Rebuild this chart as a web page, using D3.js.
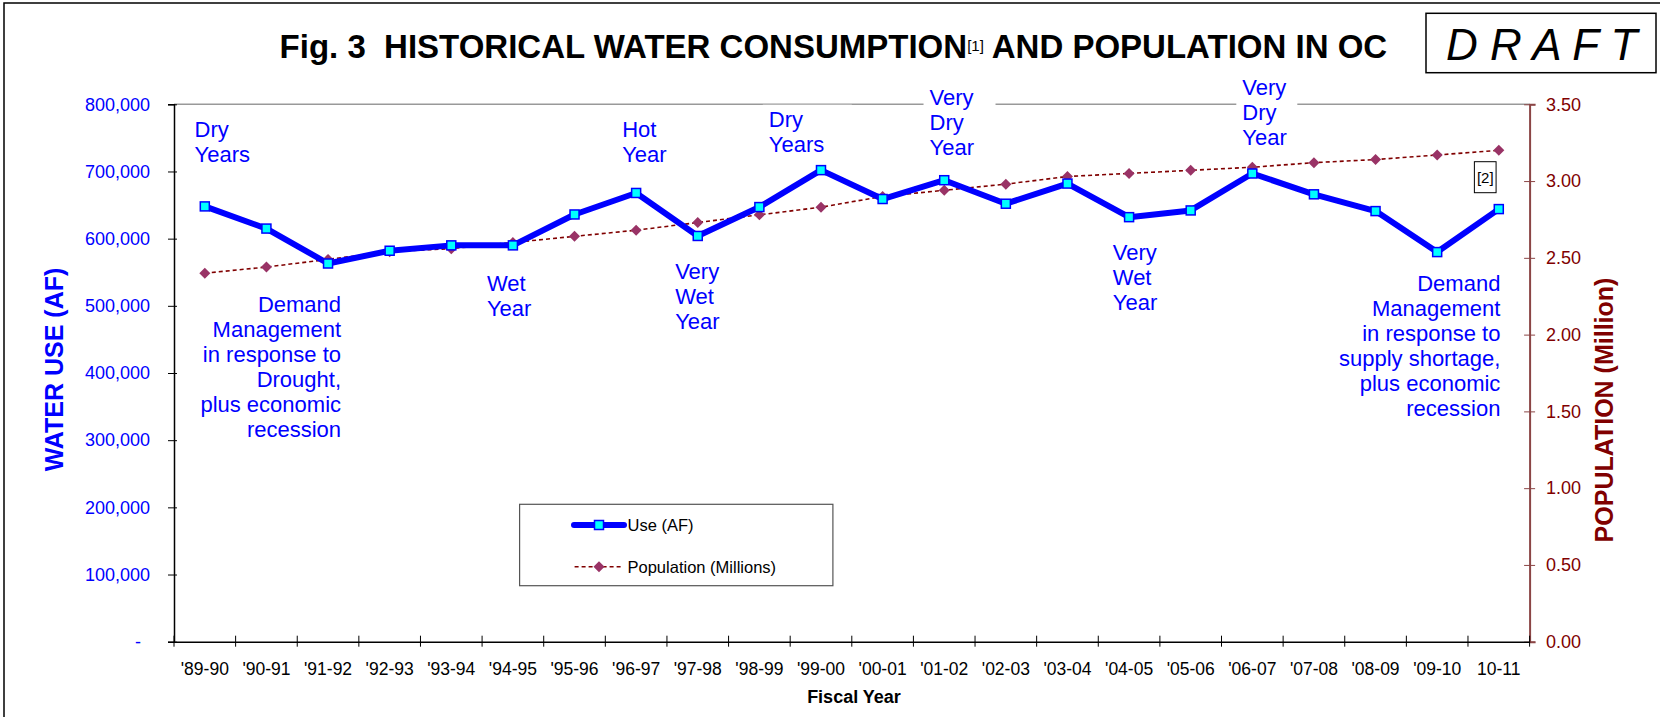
<!DOCTYPE html>
<html>
<head>
<meta charset="utf-8">
<script src="https://cdn.jsdelivr.net/npm/d3@7"></script>
<style>
  body { margin: 0; background: #fff; }
  svg { display: block; font-family: "Liberation Sans", Arial, sans-serif; }
</style>
</head>
<body>
<svg width="1660" height="717"></svg>
<script>
// fiscal years on the x axis
var years = ["'89-90", "'90-91", "'91-92", "'92-93", "'93-94", "'94-95", "'95-96", "'96-97",
             "'97-98", "'98-99", "'99-00", "'00-01", "'01-02", "'02-03", "'03-04", "'04-05",
             "'05-06", "'06-07", "'07-08", "'08-09", "'09-10", "10-11"];

// water use (AF)
var waterUse = [648000, 615000, 563000, 582000, 590000, 590000, 636000, 668000,
                604000, 647000, 702000, 659000, 687000, 652000, 682000, 632000,
                642000, 697000, 666000, 641000, 580000, 644000];

// population (millions)
var population = [2.40, 2.44, 2.49, 2.54, 2.56, 2.60, 2.64, 2.68,
                  2.73, 2.78, 2.83, 2.90, 2.94, 2.98, 3.03, 3.05,
                  3.07, 3.09, 3.12, 3.14, 3.17, 3.20];

var leftTicks = [0, 100000, 200000, 300000, 400000, 500000, 600000, 700000, 800000];
var rightTicks = [0, 0.5, 1, 1.5, 2, 2.5, 3, 3.5];

// text notes over the chart
var notes = [
  {cat: "'89-90", lines: ["Dry", "Years"]},
  {cat: "'91-92", lines: ["Demand", "Management", "in response to", "Drought,", "plus economic", "recession"]},
  {cat: "'94-95", lines: ["Wet", "Year"]},
  {cat: "'96-97", lines: ["Hot", "Year"]},
  {cat: "'97-98", lines: ["Very", "Wet", "Year"]},
  {cat: "'99-00", lines: ["Dry", "Years"]},
  {cat: "'01-02", lines: ["Very", "Dry", "Year"]},
  {cat: "'04-05", lines: ["Very", "Wet", "Year"]},
  {cat: "'06-07", lines: ["Very", "Dry", "Year"]},
  {cat: "10-11", lines: ["Demand", "Management", "in response to", "supply shortage,", "plus economic", "recession"]}
];
// where each note sits: offset from band start, first baseline, anchor, white box width
var noteLayout = [
  {dx: 20.6, y: 136.7, anchor: "start", box: 0},
  {dx: 43.8, y: 311.7, anchor: "end", box: 0},
  {dx: 4.8, y: 290.7, anchor: "start", box: 0},
  {dx: 16.8, y: 136.7, anchor: "start", box: 0},
  {dx: 8.2, y: 279.3, anchor: "start", box: 0},
  {dx: -21.4, y: 126.7, anchor: "start", box: 89},
  {dx: 16.1, y: 105, anchor: "start", box: 72},
  {dx: 14.5, y: 260, anchor: "start", box: 0},
  {dx: 20.8, y: 95, anchor: "start", box: 61},
  {dx: 32.4, y: 291, anchor: "end", box: 0}
];

var svg = d3.select("svg");
var plotL = 174, plotR = 1529.6, plotT = 104.3, plotB = 641.7;
var blue = "#0000FF", maroon = "#800000";

var x = d3.scaleBand().domain(years).range([plotL, plotR]).padding(0);
var yL = d3.scaleLinear().domain([0, 800000]).range([plotB, plotT]);
var yR = d3.scaleLinear().domain([0, 3.5]).range([plotB, plotT]);

// outer frame
svg.append("rect").attr("x", 4).attr("y", 3).attr("width", 1700).attr("height", 800)
   .attr("fill", "none").attr("stroke", "#000").attr("stroke-width", 1.5);

// title
var title = svg.append("text").attr("x", 279.6).attr("y", 58.3)
   .attr("font-size", "33px").attr("font-weight", "bold").style("white-space", "pre");
title.append("tspan").text("Fig. 3  HISTORICAL WATER CONSUMPTION");
title.append("tspan").attr("font-size", "15px").attr("font-weight", "normal").attr("dy", -7).text("[1]");
title.append("tspan").attr("dy", 7).text(" AND POPULATION IN OC");

// DRAFT stamp
svg.append("rect").attr("x", 1426).attr("y", 13.3).attr("width", 230).attr("height", 59.4)
   .attr("fill", "#fff").attr("stroke", "#000").attr("stroke-width", 1.5);
svg.append("text").attr("x", 1446).attr("y", 59.5).attr("font-size", "44px")
   .attr("font-style", "italic").style("white-space", "pre").text("D R A F T");

// plot area top border
svg.append("line").attr("x1", plotL).attr("x2", plotR).attr("y1", plotT).attr("y2", plotT)
   .attr("stroke", "#999").attr("stroke-width", 1.5);

// left axis
var gL = svg.append("g").attr("transform", "translate(" + plotL + ",0)")
   .call(d3.axisLeft(yL).tickValues(leftTicks).tickSize(6)
         .tickFormat(function(d) { return d === 0 ? "-" : d3.format(",")(d); }));
gL.select(".domain").attr("stroke", "#000").attr("stroke-width", 1.5);
gL.selectAll(".tick line").attr("x1", 3).attr("x2", -6).attr("stroke", "#000");
gL.selectAll(".tick text").attr("x", function(d) { return d === 0 ? -33 : -24; })
   .attr("fill", blue).attr("font-size", "18px").attr("font-family", null);

// right axis
var gR = svg.append("g").attr("transform", "translate(" + plotR + ",0)")
   .call(d3.axisRight(yR).tickValues(rightTicks).tickSize(6).tickFormat(d3.format(".2f")));
gR.select(".domain").attr("stroke", "#8B4545").attr("stroke-width", 2);
gR.selectAll(".tick line").attr("x1", -5.5).attr("x2", 5.5).attr("stroke", "#8B4545");
gR.selectAll(".tick text").attr("x", 16.4)
   .attr("fill", maroon).attr("font-size", "18px").attr("font-family", null);

// x axis
var gX = svg.append("g").attr("transform", "translate(0," + plotB + ")")
   .call(d3.axisBottom(x).tickSize(0));
gX.select(".domain").attr("stroke", "#000").attr("stroke-width", 1.5);
gX.selectAll(".tick text").attr("dy", null).attr("y", 33.3)
   .attr("fill", "#000").attr("font-size", "17.5px").attr("font-family", null);
var edges = years.map(function(d) { return x(d); }).concat([plotR]);
gX.selectAll(".edge").data(edges).enter().append("line").attr("class", "edge")
   .attr("x1", function(d) { return d; }).attr("x2", function(d) { return d; })
   .attr("y1", -6).attr("y2", 5).attr("stroke", "#000");

// axis titles
svg.append("text").attr("transform", "translate(63,369.5) rotate(-90)")
   .attr("text-anchor", "middle").attr("font-size", "25px").attr("font-weight", "bold")
   .attr("fill", blue).text("WATER USE (AF)");
svg.append("text").attr("transform", "translate(1613,410) rotate(-90)")
   .attr("text-anchor", "middle").attr("font-size", "25px").attr("font-weight", "bold")
   .attr("fill", maroon).text("POPULATION (Million)");
svg.append("text").attr("x", 854).attr("y", 702.7).attr("text-anchor", "middle")
   .attr("font-size", "18px").attr("font-weight", "bold").text("Fiscal Year");

// notes
notes.forEach(function(n, i) {
  var L = noteLayout[i];
  var nx = x(n.cat) + L.dx;
  if (L.box > 0) {
    svg.append("rect").attr("x", nx - 6).attr("y", L.y - 22).attr("width", L.box)
       .attr("height", 25 * n.lines.length + 4).attr("fill", "#fff");
  }
  var t = svg.append("text").attr("x", nx).attr("y", L.y).attr("text-anchor", L.anchor)
     .attr("font-size", "22px").attr("fill", blue);
  n.lines.forEach(function(s, j) {
    t.append("tspan").attr("x", nx).attr("dy", j === 0 ? 0 : 25).text(s);
  });
});

// footnote [2]
var fx = x("10-11") + 6.4;
svg.append("rect").attr("x", fx).attr("y", 161.7).attr("width", 21.7).attr("height", 31)
   .attr("fill", "#fff").attr("stroke", "#000").attr("stroke-width", 1);
svg.append("text").attr("x", fx + 10.85).attr("y", 183).attr("text-anchor", "middle")
   .attr("font-size", "15px").text("[2]");

var cx = function(d, i) { return x(years[i]) + x.bandwidth() / 2; };
var diamond = function(s) { return "M0," + (-s) + "L" + s + ",0L0," + s + "L" + (-s) + ",0Z"; };

// population line
svg.append("path").datum(population)
   .attr("fill", "none").attr("stroke", maroon).attr("stroke-width", 1.6).attr("stroke-dasharray", "4,3")
   .attr("d", d3.line().x(cx).y(function(d) { return yR(d); }));

// water use line
svg.append("path").datum(waterUse)
   .attr("fill", "none").attr("stroke", blue).attr("stroke-width", 6).attr("stroke-linejoin", "round")
   .attr("d", d3.line().x(cx).y(function(d) { return yL(d); }));

svg.selectAll(".pop").data(population).enter().append("path").attr("class", "pop")
   .attr("transform", function(d, i) { return "translate(" + cx(d, i) + "," + yR(d) + ")"; })
   .attr("d", diamond(5.5)).attr("fill", "#993366");

svg.selectAll(".use").data(waterUse).enter().append("rect").attr("class", "use")
   .attr("x", function(d, i) { return cx(d, i) - 4.5; })
   .attr("y", function(d) { return yL(d) - 4.5; })
   .attr("width", 9).attr("height", 9)
   .attr("fill", "#00FFFF").attr("stroke", blue).attr("stroke-width", 1.5);

// legend
var lg = svg.append("g");
lg.append("rect").attr("x", 519.6).attr("y", 504.3).attr("width", 313.3).attr("height", 81.4)
  .attr("fill", "#fff").attr("stroke", "#555").attr("stroke-width", 1.2);
lg.append("line").attr("x1", 574).attr("x2", 624).attr("y1", 525).attr("y2", 525)
  .attr("stroke", blue).attr("stroke-width", 6).attr("stroke-linecap", "round");
lg.append("rect").attr("x", 594.5).attr("y", 520.5).attr("width", 9).attr("height", 9)
  .attr("fill", "#00FFFF").attr("stroke", blue).attr("stroke-width", 1.5);
lg.append("text").attr("x", 627.5).attr("y", 531).attr("font-size", "16.5px").text("Use (AF)");
lg.append("line").attr("x1", 574.6).attr("x2", 623).attr("y1", 566.7).attr("y2", 566.7)
  .attr("stroke", maroon).attr("stroke-width", 1.6).attr("stroke-dasharray", "4,3");
lg.append("path").attr("transform", "translate(599,566.7)").attr("d", diamond(5.5)).attr("fill", "#993366");
lg.append("text").attr("x", 627.5).attr("y", 572.5).attr("font-size", "16.5px").text("Population (Millions)");
</script>
</body>
</html>
